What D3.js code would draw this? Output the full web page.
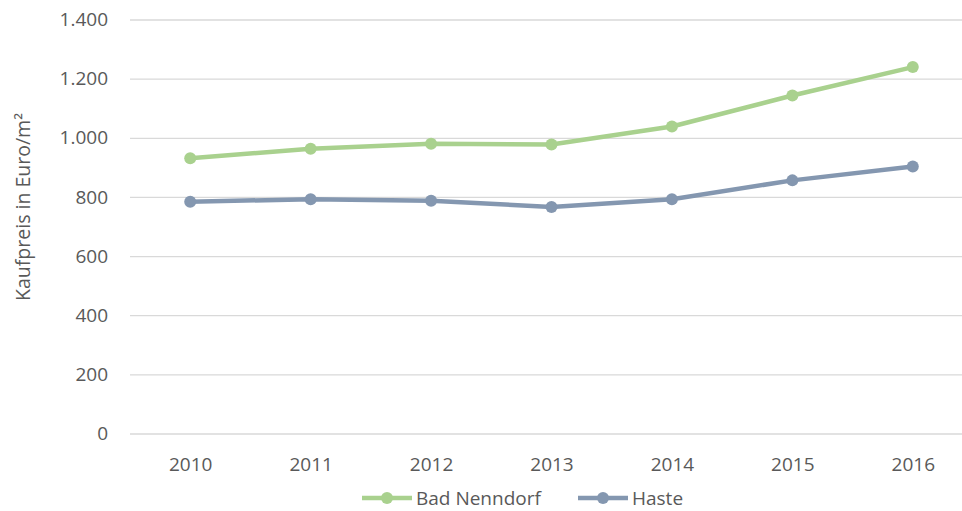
<!DOCTYPE html>
<html>
<head>
<meta charset="utf-8">
<script src="https://cdn.jsdelivr.net/npm/d3@7"></script>
<style>
  html, body { margin: 0; padding: 0; background: #fff; }
  svg { display: block; }
  text { font-family: "Open Sans", "Noto Sans", sans-serif; fill: #595959; }
</style>
</head>
<body>
<svg id="chart" width="962" height="511"></svg>
<script>
// Kaufpreise (Euro/m²) je Jahr
const years = ["2010", "2011", "2012", "2013", "2014", "2015", "2016"];
const badNenndorf = [931, 963, 980, 977, 1038, 1143, 1239];
const haste = [784, 792, 787, 766, 792, 856, 903];
const yTicks = [0, 200, 400, 600, 800, 1000, 1200, 1400];
const seriesNames = ["Bad Nenndorf", "Haste"];
const seriesColors = ["#A9D18E", "#8497B0"];

const series = [
  { name: seriesNames[0], values: badNenndorf, color: seriesColors[0] },
  { name: seriesNames[1], values: haste, color: seriesColors[1] }
];

const svg = d3.select("#chart");

const x = d3.scalePoint().domain(years).range([130, 973]).padding(0.5);
const y = d3.scaleLinear().domain([0, 1400]).range([433.5, 19.5]);

const fmt = v => d3.format(",")(v).replace(/,/g, ".");
const fontSize = 19;

// Gridlines + y labels
const yAxis = d3.axisLeft(y).tickValues(yTicks).tickSize(-(973 - 130)).tickFormat(fmt).tickPadding(22);
const gy = svg.append("g").attr("transform", "translate(130,0)").call(yAxis);
gy.select(".domain").remove();
gy.selectAll(".tick line").attr("stroke", "#d9d9d9").attr("stroke-width", 1.3);
gy.selectAll(".tick text").attr("font-size", fontSize).style("fill", "#595959")
  .attr("font-family", "'Open Sans', 'Noto Sans', sans-serif");

// x labels
const xAxis = d3.axisBottom(x).tickSize(0).tickPadding(24);
const gx = svg.append("g").attr("transform", "translate(0,433.5)").call(xAxis);
gx.select(".domain").remove();
gx.selectAll(".tick text").attr("font-size", fontSize).style("fill", "#595959")
  .attr("font-family", "'Open Sans', 'Noto Sans', sans-serif");

// Axis title
svg.append("text")
  .attr("transform", "translate(30,207) rotate(-90)")
  .attr("text-anchor", "middle")
  .attr("font-size", 19.5)
  .text("Kaufpreis in Euro/m²");

// Lines and markers
const line = d3.line().x((d, i) => x(years[i])).y(d => y(d));
series.forEach(s => {
  svg.append("path")
    .datum(s.values)
    .attr("d", line)
    .attr("fill", "none")
    .attr("stroke", s.color)
    .attr("stroke-width", 4.5)
    .attr("stroke-linejoin", "round");
  svg.selectAll(null)
    .data(s.values)
    .enter().append("circle")
    .attr("cx", (d, i) => x(years[i]))
    .attr("cy", d => y(d))
    .attr("r", 6)
    .attr("fill", s.color);
});

// Legend
const legendPos = [362, 578];
series.forEach((s, i) => {
  const g = svg.append("g").attr("transform", `translate(${legendPos[i]},498)`);
  g.append("line").attr("x1", 0).attr("x2", 50).attr("y1", 0).attr("y2", 0)
    .attr("stroke", s.color).attr("stroke-width", 4.5);
  g.append("circle").attr("cx", 25).attr("cy", 0).attr("r", 6).attr("fill", s.color);
  g.append("text").attr("x", 54).attr("y", 0).attr("dy", "0.35em")
    .attr("font-size", fontSize).text(s.name);
});
</script>
</body>
</html>
